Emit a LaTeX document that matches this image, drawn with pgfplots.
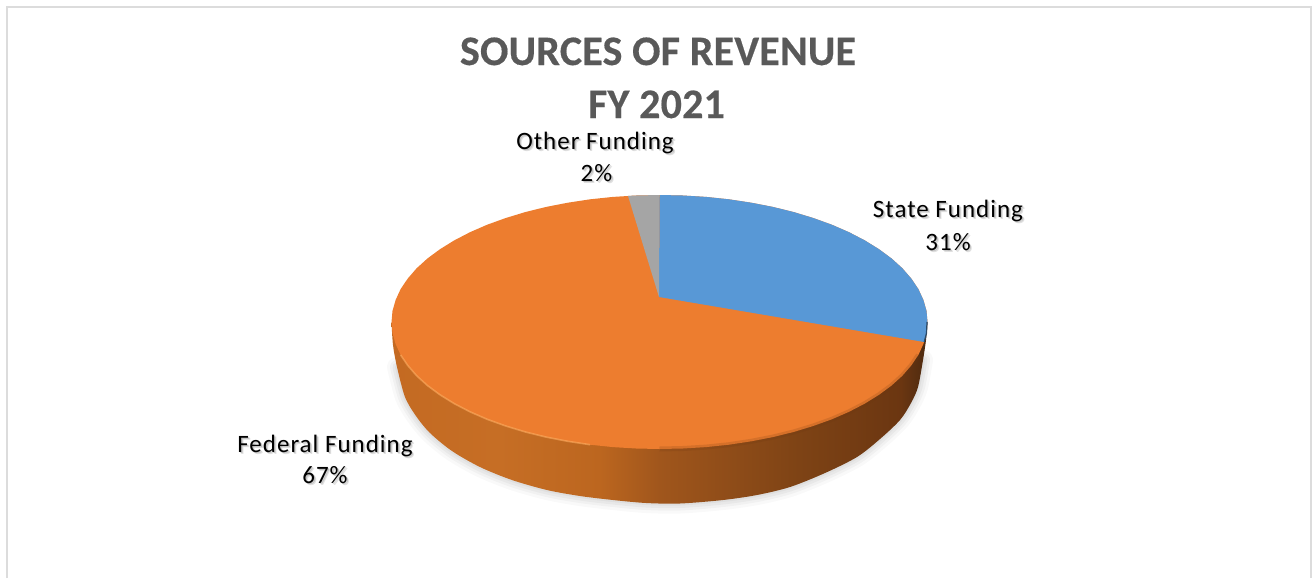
\documentclass[border=0pt]{standalone}
\usepackage{pgfplots}
\usepackage{pgfplotstable}
\usepackage{fontspec}
\pgfplotsset{compat=1.18}
\setmainfont{Carlito}
\newfontfamily\labelfont[LetterSpace=4]{Carlito}
\newfontfamily\titlefont[LetterSpace=0.5,BoldFeatures={FakeBold=0.4}]{Carlito}

\definecolor{titlegray}{HTML}{595959}
\definecolor{sliceblue}{HTML}{5898D6}
\definecolor{sliceorange}{HTML}{ED7D2F}
\definecolor{slicegray}{HTML}{A5A5A5}
\definecolor{framegray}{HTML}{DCDCDC}
\definecolor{sa}{HTML}{C46A22}
\definecolor{sb}{HTML}{C66E25}
\definecolor{sc}{HTML}{BC661F}
\definecolor{sd}{HTML}{A0561C}
\definecolor{se}{HTML}{7E4315}
\definecolor{sf}{HTML}{6B3611}
\definecolor{sg}{HTML}{4D2A10}
\pgfdeclarehorizontalshading{pieside}{100bp}{
  color(0bp)=(sa); color(25bp)=(sa); color(35bp)=(sb); color(44.4bp)=(sc);
  color(50bp)=(sd); color(63bp)=(se); color(72.5bp)=(sf); color(75bp)=(sg);
  color(100bp)=(sg)}

% top face of the pie in pixels
\pgfplotstableread{
x y
659.5 195
682.9 195.5
706.0 196.9
728.9 199.3
751.2 202.7
772.8 206.9
793.5 212.0
813.2 218.0
831.8 224.7
849.0 232.2
864.8 240.4
879.0 249.2
891.6 258.5
902.4 268.3
911.3 278.6
918.4 289.1
923.4 300.0
926.5 310.9
927.5 322
926.5 333.1
923.4 344.0
918.4 354.9
911.3 365.4
902.4 375.7
891.6 385.5
879.0 394.8
864.8 403.6
849.0 411.8
831.8 419.3
813.2 426.0
793.5 432.0
772.8 437.1
751.2 441.3
728.9 444.7
706.0 447.1
682.9 448.5
659.5 449
636.1 448.5
613.0 447.1
590.1 444.7
567.8 441.3
546.2 437.1
525.5 432.0
505.8 426.0
487.2 419.3
470.0 411.8
454.2 403.6
440.0 394.8
427.4 385.5
416.6 375.7
407.7 365.4
400.6 354.9
395.6 344.0
392.5 333.1
391.5 322
392.5 310.9
395.6 300.0
400.6 289.1
407.7 278.6
416.6 268.3
427.4 258.5
440.0 249.2
454.2 240.4
470.0 232.2
487.2 224.7
505.8 218.0
525.5 212.0
546.2 206.9
567.8 202.7
590.1 199.3
613.0 196.9
636.1 195.5
659.5 195
}\toprim

% lower edge of the side wall
\pgfplotstableread{
x y
391.5 322
393 345
397 367
405 397
416 416
430 433
452 451
480 467
512 480
547 490
580 496
613 500
646 503
680 503.5
723 500
757 495
790 487
825 473
857 457
880 439
900 420
911 403
918 387
923 360
926 340
927.5 322
}\sidewall

% same edge for the shadow, starts lower so it stays off the top face
\pgfplotstableread{
x y
397 367
405 397
416 416
430 433
452 451
480 467
512 480
547 490
580 496
613 500
646 503
680 503.5
723 500
757 495
790 487
825 473
857 457
880 439
900 420
911 403
918 387
923 360
}\shadowedge

\newcommand{\chartlabel}[3]{%
  \node[anchor=base,inner sep=0pt,text=black,opacity=0.12] at (axis cs:#1+2.2,#2+2.4) {\fontsize{25}{25}\labelfont #3};
  \node[anchor=base,inner sep=0pt,text=black,opacity=0.16] at (axis cs:#1+1.2,#2+1.3) {\fontsize{25}{25}\labelfont #3};
  \node[anchor=base,inner sep=0pt,text=black] at (axis cs:#1,#2) {\fontsize{25}{25}\labelfont #3};
}

\begin{document}
\begin{tikzpicture}
\begin{axis}[
  scale only axis,
  width=1314pt,
  height=578pt,
  xmin=0, xmax=1314,
  ymin=0, ymax=578,
  y dir=reverse,
  hide axis,
  clip=false,
]
% keeps the whole canvas in the picture, hide axis would shrink it to the frame
\path (axis cs:0,0) rectangle (axis cs:1314,578);

% frame, runs off the bottom of the picture
\addplot[framegray, line width=2.5pt] coordinates {(7,578) (7,7) (1311,7) (1311,578)};

% soft shadow under the pie
\addplot[smooth, black, opacity=0.025, line width=20pt, line cap=round] table {\shadowedge};
\addplot[smooth, black, opacity=0.03, line width=14pt, line cap=round] table {\shadowedge};
\addplot[smooth, black, opacity=0.035, line width=9pt, line cap=round] table {\shadowedge};
\addplot[smooth, black, opacity=0.04, line width=4pt, line cap=round] table {\shadowedge};

% side wall
\addplot[smooth, draw=none, shade, shading=pieside] table {\sidewall};

% top face: federal funding is what is left of the orange
\addplot[draw=none, fill=sliceorange] table {\toprim};

% highlight along the rim on the left
\addplot[color=orange!60!white, opacity=0.55, line width=1.6pt] coordinates {
  (400.6,354.9) (407.7,365.4) (416.6,375.7) (427.4,385.5) (440.0,394.8) (454.2,403.6)
  (470.0,411.8) (487.2,419.3) (505.8,426.0) (525.5,432.0) (546.2,437.1) (567.8,441.3) (590.1,444.7)};

% the rim fades into the dark wall on the right
\addplot[color=sf, opacity=0.18, line width=5pt] coordinates {
  (659.5,449) (682.9,448.5) (706.0,447.1) (728.9,444.7) (751.2,441.3) (772.8,437.1)
  (793.5,432.0) (813.2,426.0) (831.8,419.3) (849.0,411.8) (864.8,403.6) (879.0,394.8)
  (891.6,385.5) (902.4,375.7) (911.3,365.4) (918.4,354.9)};

% state funding, 31%
\addplot[draw=none, fill=sliceblue] coordinates {
  (659,297) (659.5,195) (682.9,195.5) (706.0,196.9) (728.9,199.3) (751.2,202.7)
  (772.8,206.9) (793.5,212.0) (813.2,218.0) (831.8,224.7) (849.0,232.2) (864.8,240.4)
  (879.0,249.2) (891.6,258.5) (902.4,268.3) (911.3,278.6) (918.4,289.1) (923.4,300.0)
  (926.5,310.9) (927.5,322) (926.5,333.1) (924.2,342) (659,297)};
\addplot[color=black!20!sliceblue!60!black, line width=1.2pt] coordinates {
  (927,322) (926.5,333.1) (924.2,342)};

% other funding, 2%
\addplot[draw=none, fill=slicegray] coordinates {
  (659,297) (659.5,195) (636.1,195.5) (628,195.9) (659,297)};

\node[anchor=base,inner sep=0pt,text=titlegray] at (axis cs:658,65)
  {\fontsize{42}{42}\titlefont\bfseries SOURCES OF REVENUE};
\node[anchor=base,inner sep=0pt,text=titlegray] at (axis cs:656.5,118)
  {\fontsize{42}{42}\titlefont\bfseries FY 2021};

\chartlabel{595}{149}{Other Funding}
\chartlabel{596.5}{181}{2\%}
\chartlabel{948}{217}{State Funding}
\chartlabel{948}{250}{31\%}
\chartlabel{325}{452}{Federal Funding}
\chartlabel{325}{483}{67\%}
\end{axis}
\end{tikzpicture}
\end{document}
